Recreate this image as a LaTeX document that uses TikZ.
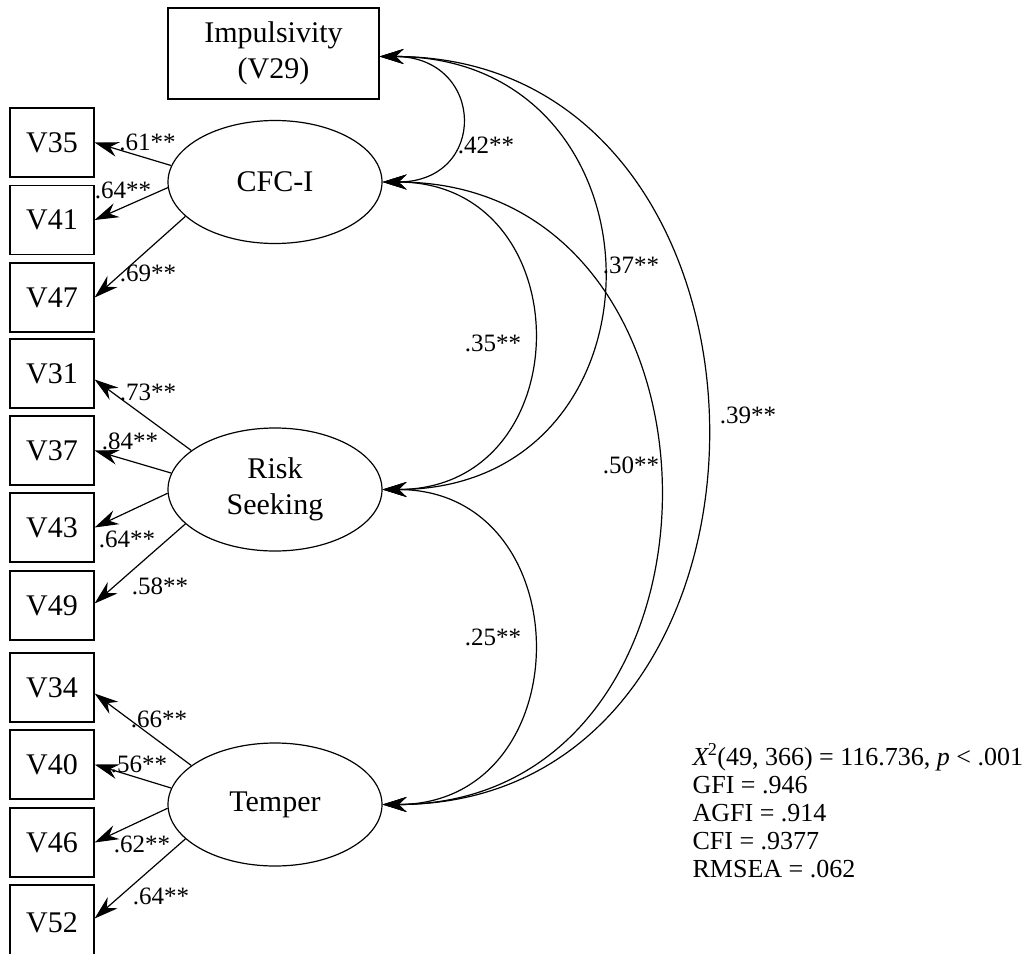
\documentclass[tikz,border=0pt]{standalone}
\usepackage{fontspec}
\setmainfont{Liberation Serif}
\usetikzlibrary{shapes.geometric,arrows.meta}

\begin{document}
\begin{tikzpicture}[x=1pt,y=-1pt,
  line width=1.2pt,
  obs/.style={draw, line width=1.2pt, minimum width=84pt, minimum height=69pt,
    inner sep=0pt, align=center, font=\fontsize{30}{36}\selectfont},
  lat/.style={draw, ellipse, minimum width=214pt, minimum height=123pt,
    inner sep=0pt, align=center, font=\fontsize{30}{36}\selectfont},
  tipstyle/.tip={Stealth[length=24pt,width=15pt,inset=8pt]},
  load/.style={-tipstyle},
  cov/.style={tipstyle-tipstyle},
  coef/.style={font=\fontsize{25}{30}\selectfont, inner sep=0pt},
  gof/.style={font=\fontsize{26}{28}\selectfont, inner sep=0pt, anchor=base west}
]
\useasboundingbox (0,0) rectangle (1033,953);

% observed single indicator
\node[obs, minimum width=211pt, minimum height=91pt] (imp) at (273.5,53.5) {Impulsivity\\(V29)};

% latent factors
\node[lat] (cfc)  at (275,182)   {CFC-I};
\node[lat] (risk) at (275,489.5) {Risk\\Seeking};
\node[lat] (temp) at (275,804.5) {Temper};

% indicators
\node[obs] (v35) at (52,142.5) {V35};
\node[obs] (v41) at (52,220)   {V41};
\node[obs] (v47) at (52,297.5) {V47};
\node[obs] (v31) at (52,373.5) {V31};
\node[obs] (v37) at (52,450.5) {V37};
\node[obs] (v43) at (52,527.5) {V43};
\node[obs] (v49) at (52,605.5) {V49};
\node[obs] (v34) at (52,687.5) {V34};
\node[obs] (v40) at (52,764.5) {V40};
\node[obs] (v46) at (52,842.5) {V46};
\node[obs, minimum height=75pt] (v52) at (52,922.5) {V52};

% factor loadings
\draw[load] (cfc.171) -- (v35.east);
\draw[load] (cfc.183) -- (v41.east);
\draw[load] (cfc.201) -- (v47.east);
\draw[load] (risk.155) -- ([yshift=-6pt]v31.east);
\draw[load] (risk.171) -- (v37.east);
\draw[load] (risk.182) -- (v43.east);
\draw[load] (risk.201) -- ([yshift=2pt]v49.east);
\draw[load] (temp.155) -- ([yshift=-6pt]v34.east);
\draw[load] (temp.171) -- (v40.east);
\draw[load] (temp.182) -- (v46.east);
\draw[load] (temp.201) -- ([yshift=4pt]v52.east);

\node[coef] (l35) at (147.5,142) {.61**};
\node[coef] (l41) at (123,190)   {.64**};
\node[coef] (l47) at (148,273)   {.69**};
\node[coef] (l31) at (148,392)   {.73**};
\node[coef] (l37) at (130,441)   {.84**};
\node[coef] (l43) at (127,539)   {.64**};
\node[coef] (l49) at (160,586)   {.58**};
\node[coef] (l34) at (159,719)   {.66**};
\node[coef] (l40) at (139,764)   {.56**};
\node[coef] (l46) at (142,844)   {.62**};
\node[coef] (l52) at (161,896)   {.64**};

% correlations
\draw[cov] ([yshift=-3pt]imp.east) .. controls +(106,0) and +(106,0) .. (cfc.east);
\draw[cov] ([yshift=-3pt]imp.east) .. controls +(295,0) and +(295,0) .. (risk.east);
\draw[cov] ([yshift=-3pt]imp.east) .. controls +(433,0) and +(433,0) .. (temp.east);
\draw[cov] (cfc.east) .. controls +(200,0) and +(200,0) .. (risk.east);
\draw[cov] (cfc.east) .. controls +(368,0) and +(368,0) .. (temp.east);
\draw[cov] (risk.east) .. controls +(200,0) and +(200,0) .. (temp.east);

\node[coef] (r42) at (486,145) {.42**};
\node[coef] (r37) at (631,265) {.37**};
\node[coef] (r39) at (748,415) {.39**};
\node[coef] (r35) at (493,343) {.35**};
\node[coef] (r50) at (631,465) {.50**};
\node[coef] (r25) at (493,637) {.25**};

% fit indices
\node[gof] (g1) at (692,765) {\textit{X}\kern-1.5pt\textsuperscript{2}(49, 366) = 116.736, \textit{p} < .001};
\node[gof] (g2) at (692,793) {GFI = .946};
\node[gof] (g3) at (692,821) {AGFI = .914};
\node[gof] (g4) at (692,849) {CFI = .9377};
\node[gof] (g5) at (692,877) {RMSEA = .062};
\end{tikzpicture}
\end{document}
